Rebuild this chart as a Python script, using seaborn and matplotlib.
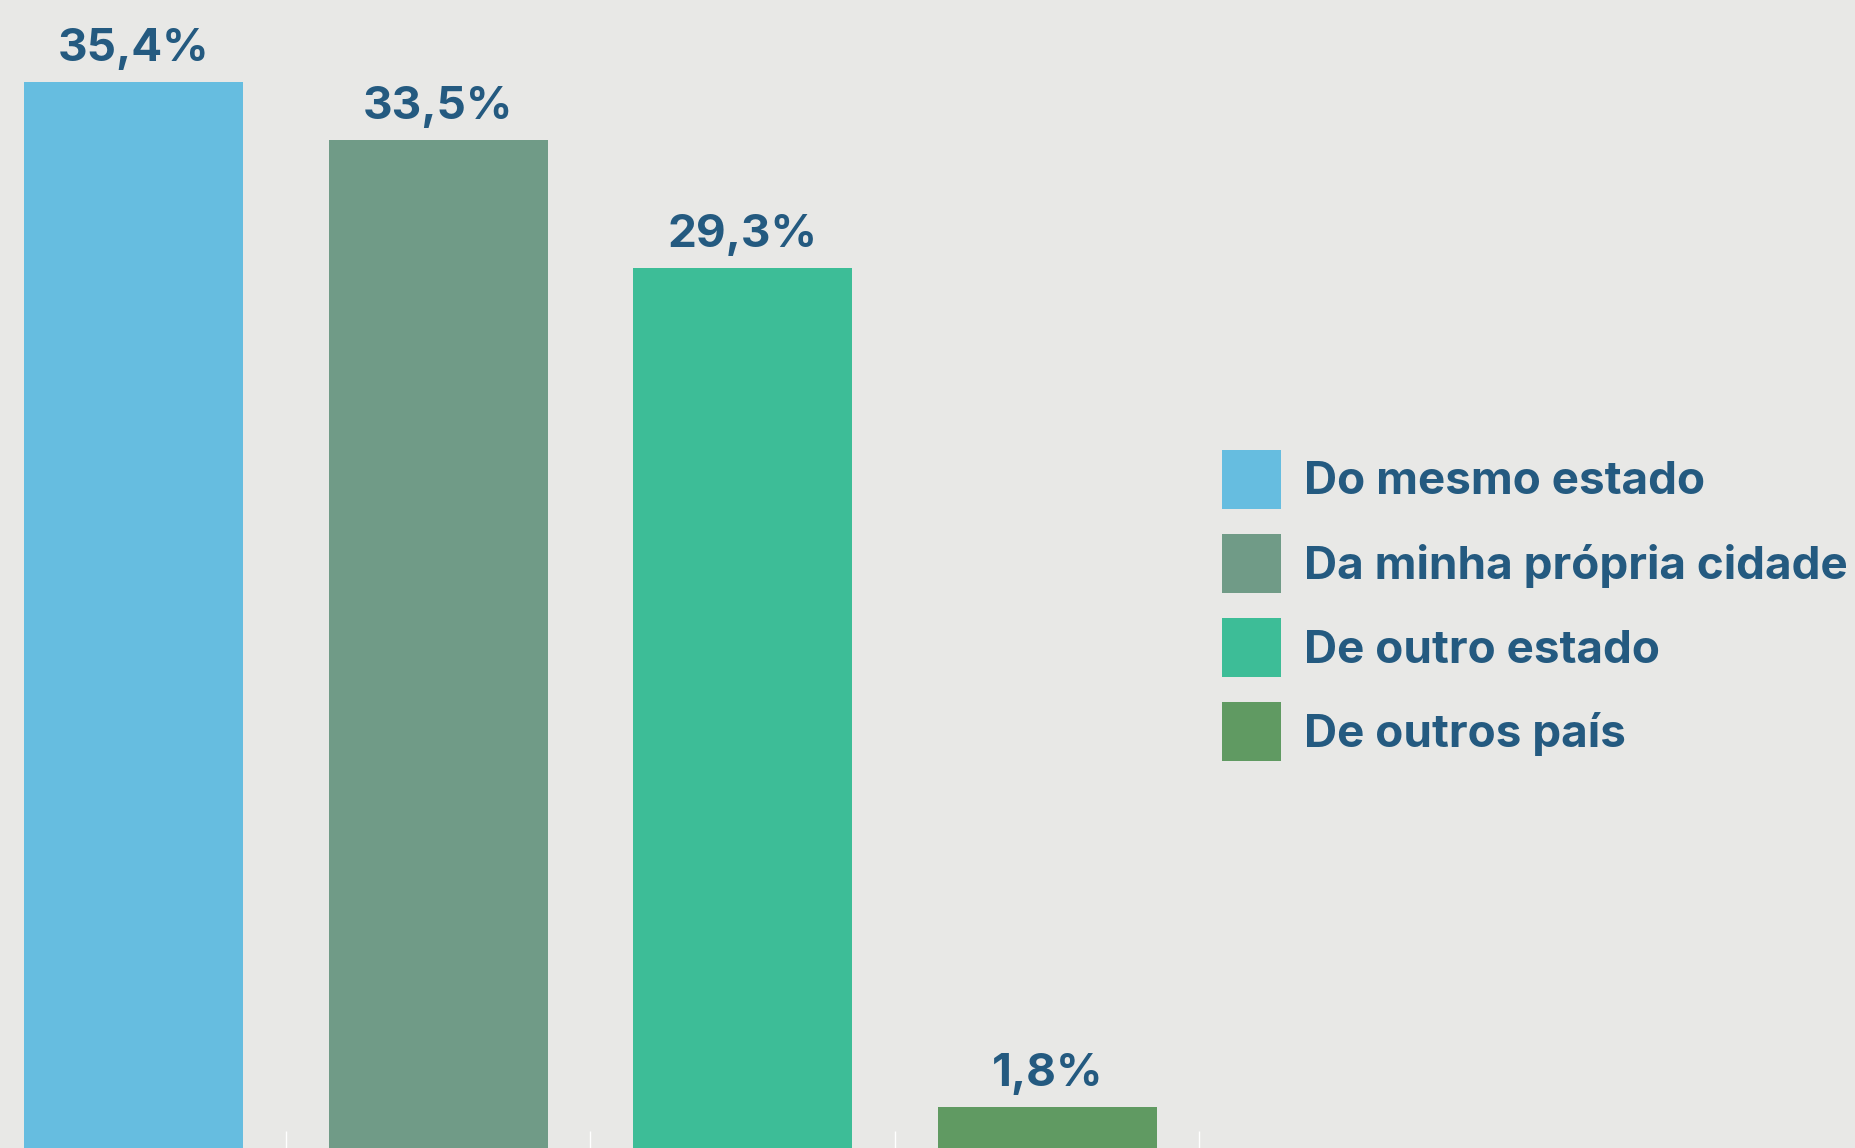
import matplotlib
matplotlib.use("Agg")
import matplotlib.pyplot as plt
import seaborn as sns
import pandas as pd

categorias = ["Do mesmo estado", "Da minha própria cidade", "De outro estado", "De outros país"]
valores = [35.4, 33.5, 29.3, 1.8]
cores = ["#66bde0", "#709b87", "#3dbd97", "#609a62"]
rotulos = ["35,4%", "33,5%", "29,3%", "1,8%"]

fundo = "#e8e8e6"
azul = "#245a80"

sns.set_theme(style="white")
plt.rcParams["font.family"] = ["Inter", "DejaVu Sans"]

df = pd.DataFrame({"origem": categorias, "pct": valores})

fig = plt.figure(figsize=(18.56, 11.48), dpi=100, facecolor=fundo)
# axis runs a bit past the left and bottom edges, like the original
ax = fig.add_axes([-18.5 / 1856, -14 / 1148, 1218 / 1856, 1162 / 1148])
ax.set_facecolor(fundo)

sns.barplot(data=df, x="origem", y="pct", hue="origem", palette=cores,
            width=0.72, saturation=1, dodge=False, legend=True,
            linewidth=0, edgecolor="none", ax=ax)

for cont, lab in zip(ax.containers, rotulos):
    ax.bar_label(cont, labels=[lab], padding=9, color=azul,
                 fontsize=33, fontweight="bold")

ax.set_ylim(0, 38.1)
ax.set_xlim(-0.5, 3.5)
ax.set_xlabel("")
ax.set_ylabel("")
ax.set_yticks([])
ax.set_xticks([0.5, 1.5, 2.5, 3.5])
ax.set_xticklabels([])
ax.tick_params(axis="x", direction="in", length=22, width=1, color="white", bottom=True)
for s in ax.spines.values():
    s.set_visible(False)

handles, labels = ax.get_legend_handles_labels()
ax.get_legend().remove()
fig.legend(handles, labels, loc="upper left", bbox_to_anchor=(1222 / 1856, 1 - 450 / 1148),
           frameon=False, labelcolor=azul,
           prop={"weight": "bold", "size": 33},
           handlelength=1.29, handleheight=1.6, handletextpad=0.5, labelspacing=0.55,
           borderpad=0, borderaxespad=0)

fig.savefig("out.png", dpi=100, facecolor=fundo)
